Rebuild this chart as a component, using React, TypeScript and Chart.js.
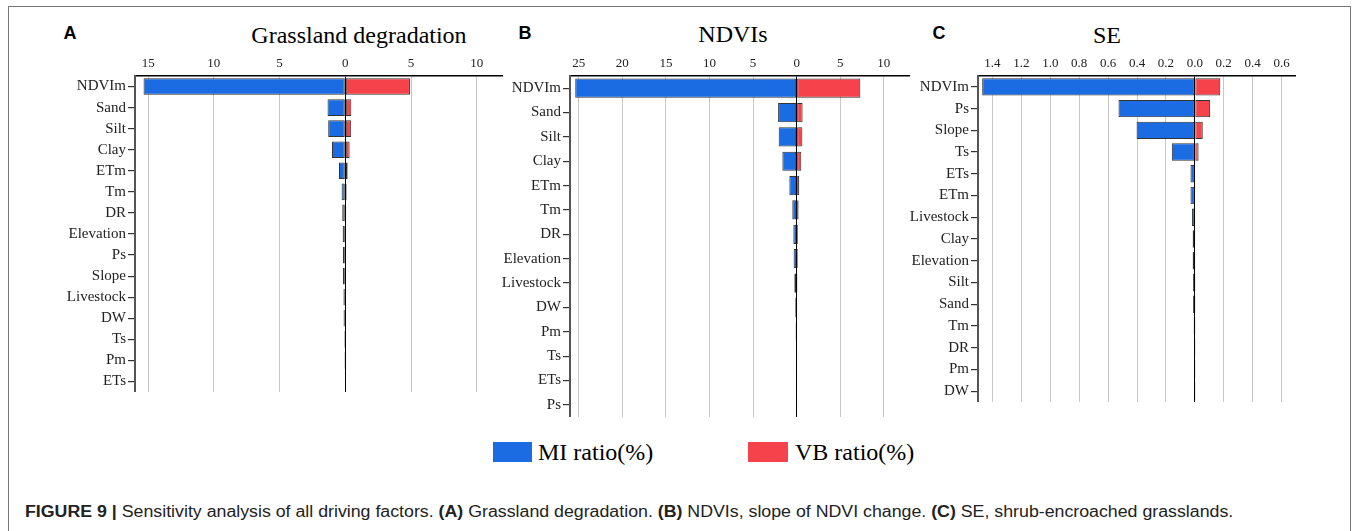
import React, { useEffect, useRef } from "react";
import { Chart, registerables } from "chart.js";

Chart.register(...registerables);

const SERIF = "'Liberation Serif', 'Times New Roman', serif";
const SANS = "'Liberation Sans', Arial, sans-serif";

const BLUE = "#1b6be2";
const RED = "#f6424a";

// Panel A: Grassland degradation
const A_TITLE = "Grassland degradation";
const A_FACTORS = ["NDVIm", "Sand", "Silt", "Clay", "ETm", "Tm", "DR", "Elevation", "Ps", "Slope", "Livestock", "DW", "Ts", "Pm", "ETs"];
const A_MI = [15.35, 1.35, 1.3, 1.01, 0.48, 0.28, 0.23, 0.2, 0.18, 0.18, 0.14, 0.13, 0.08, 0.07, 0.03];
const A_VB = [4.92, 0.46, 0.45, 0.33, 0.18, 0.1, 0.07, 0.06, 0.05, 0.05, 0.04, 0.03, 0.02, 0.02, 0.01];
const A_TICKS = [-15, -10, -5, 0, 5, 10];

// Panel B: NDVIs
const B_TITLE = "NDVIs";
const B_FACTORS = ["NDVIm", "Sand", "Silt", "Clay", "ETm", "Tm", "DR", "Elevation", "Livestock", "DW", "Pm", "Ts", "ETs", "Ps"];
const B_MI = [25.4, 2.13, 2.06, 1.64, 0.84, 0.5, 0.38, 0.35, 0.27, 0.16, 0.12, 0.08, 0.05, 0.04];
const B_VB = [7.3, 0.68, 0.65, 0.53, 0.3, 0.22, 0.15, 0.14, 0.1, 0.07, 0.05, 0.03, 0.02, 0.02];
const B_TICKS = [-25, -20, -15, -10, -5, 0, 5, 10];

// Panel C: SE
const C_TITLE = "SE";
const C_FACTORS = ["NDVIm", "Ps", "Slope", "Ts", "ETs", "ETm", "Livestock", "Clay", "Elevation", "Silt", "Sand", "Tm", "DR", "Pm", "DW"];
const C_MI = [1.471, 0.528, 0.403, 0.159, 0.03, 0.03, 0.02, 0.015, 0.015, 0.012, 0.012, 0.008, 0.006, 0.004, 0.003];
const C_VB = [0.176, 0.106, 0.055, 0.026, 0.003, 0.003, 0.002, 0.002, 0.002, 0.001, 0.001, 0.001, 0.001, 0.001, 0.001];
const C_TICKS = [-1.4, -1.2, -1.0, -0.8, -0.6, -0.4, -0.2, 0, 0.2, 0.4, 0.6];

const LEGEND = ["MI ratio(%)", "VB ratio(%)"];
const CAPTION_TEXTS = [
  "FIGURE 9 |",
  " Sensitivity analysis of all driving factors. ",
  "(A)",
  " Grassland degradation. ",
  "(B)",
  " NDVIs, slope of NDVI change. ",
  "(C)",
  " SE, shrub-encroached grasslands.",
];
const CAPTION_BOLD = [true, false, true, false, true, false, true, false];

type PanelProps = {
  labels: string[];
  mi: number[];
  vb: number[];
  ticks: number[];
  min: number;
  max: number;
  decimals: number;
  left: number;
  top: number;
  width: number;
  height: number;
  barPct: number;
};

const Y_AXIS_W = 85;
const X_AXIS_H = 30;

function Panel(p: PanelProps) {
  const ref = useRef<HTMLCanvasElement | null>(null);
  useEffect(() => {
    if (!ref.current) return;
    const chart = new Chart(ref.current, {
      type: "bar",
      data: {
        labels: p.labels,
        datasets: [
          {
            label: LEGEND[0],
            data: p.mi.map((v) => -v),
            backgroundColor: BLUE,
            borderColor: "#333",
            borderWidth: 1,
            borderSkipped: false,
            barPercentage: 1,
            categoryPercentage: p.barPct,
          },
          {
            label: LEGEND[1],
            data: p.vb,
            backgroundColor: RED,
            borderColor: "#333",
            borderWidth: 1,
            borderSkipped: false,
            barPercentage: 1,
            categoryPercentage: p.barPct,
          },
        ],
      },
      options: {
        indexAxis: "y",
        animation: false,
        responsive: false,
        maintainAspectRatio: false,
        layout: { padding: 0 },
        plugins: {
          legend: { display: false },
          title: { display: false },
          tooltip: { enabled: false },
        },
        scales: {
          x: {
            position: "top",
            stacked: true,
            min: p.min,
            max: p.max,
            afterBuildTicks: (axis: any) => {
              axis.ticks = p.ticks.map((v) => ({ value: v }));
            },
            afterFit: (axis: any) => {
              axis.height = X_AXIS_H;
              axis.paddingLeft = 0;
              axis.paddingRight = 0;
            },
            ticks: {
              font: { family: SERIF, size: 13 },
              color: "#222",
              padding: 5,
              maxRotation: 0,
              autoSkip: false,
              callback: (v: any) => Math.abs(Number(v)).toFixed(p.decimals),
            },
            grid: {
              drawTicks: false,
              drawOnChartArea: true,
              color: (ctx: any) => (ctx.tick && Math.abs(ctx.tick.value) < 1e-9 ? "#000" : "#c8c8c8"),
              lineWidth: 1,
            },
            border: { display: true, color: "#000", width: 1.5 },
          },
          y: {
            stacked: true,
            afterFit: (axis: any) => {
              axis.width = Y_AXIS_W;
              axis.paddingTop = 0;
              axis.paddingBottom = 0;
            },
            ticks: {
              font: { family: SERIF, size: 15 },
              color: "#222",
              padding: 2,
              autoSkip: false,
            },
            grid: {
              offset: false,
              drawOnChartArea: false,
              drawTicks: true,
              tickLength: 7,
              color: "#333",
              lineWidth: 1.2,
            },
            border: { display: true, color: "#555", width: 2 },
          },
        },
      },
    } as any);
    return () => chart.destroy();
  }, []);
  return (
    <canvas
      ref={ref}
      width={p.width}
      height={p.height}
      style={{ position: "absolute", left: p.left, top: p.top, width: p.width, height: p.height }}
    />
  );
}

function Txt(props: { x: number; y: number; text: string; size: number; family: string; bold?: boolean; center?: boolean }) {
  return (
    <div
      style={{
        position: "absolute",
        left: props.center ? props.x - 300 : props.x,
        top: props.y - props.size * 0.6,
        width: props.center ? 600 : undefined,
        textAlign: props.center ? "center" : "left",
        fontFamily: props.family,
        fontSize: props.size,
        fontWeight: props.bold ? "bold" : "normal",
        lineHeight: `${props.size * 1.2}px`,
        color: "#000",
        whiteSpace: "nowrap",
      }}
    >
      {props.text}
    </div>
  );
}

export default function App() {
  useEffect(() => {
    document.body.style.margin = "0";
  }, []);
  const top = 76 - X_AXIS_H;
  return (
    <div style={{ position: "relative", width: 1360, height: 531, overflow: "hidden", background: "#fff" }}>
      <div
        style={{
          position: "absolute",
          left: 8,
          top: 6,
          width: 1343,
          height: 600,
          border: "1.5px solid #777",
          boxSizing: "border-box",
        }}
      />
      <Txt x={70} y={34} text="A" size={18} family={SANS} bold center />
      <Txt x={525} y={34} text="B" size={18} family={SANS} bold center />
      <Txt x={939} y={34} text="C" size={18} family={SANS} bold center />
      <Txt x={359} y={35} text={A_TITLE} size={24} family={SERIF} center />
      <Txt x={733} y={34} text={B_TITLE} size={24} family={SERIF} center />
      <Txt x={1107} y={35} text={C_TITLE} size={24} family={SERIF} center />

      <Panel
        labels={A_FACTORS}
        mi={A_MI}
        vb={A_VB}
        ticks={A_TICKS}
        min={-16}
        max={12}
        decimals={0}
        left={135 - Y_AXIS_W}
        top={top}
        width={503 - (135 - Y_AXIS_W)}
        height={392 - top}
        barPct={0.79}
      />
      <Panel
        labels={B_FACTORS}
        mi={B_MI}
        vb={B_VB}
        ticks={B_TICKS}
        min={-26}
        max={13}
        decimals={0}
        left={570 - Y_AXIS_W}
        top={top}
        width={910 - (570 - Y_AXIS_W)}
        height={417 - top}
        barPct={0.79}
      />
      <Panel
        labels={C_FACTORS}
        mi={C_MI}
        vb={C_VB}
        ticks={C_TICKS}
        min={-1.5}
        max={0.7}
        decimals={1}
        left={978 - Y_AXIS_W}
        top={top}
        width={1296 - (978 - Y_AXIS_W)}
        height={402 - top}
        barPct={0.8}
      />

      <div style={{ position: "absolute", left: 493, top: 442, width: 39, height: 20, background: BLUE }} />
      <Txt x={538} y={452} text={LEGEND[0]} size={24} family={SERIF} />
      <div style={{ position: "absolute", left: 748, top: 442, width: 40, height: 20, background: RED }} />
      <Txt x={795} y={452} text={LEGEND[1]} size={24} family={SERIF} />

      <div
        style={{
          position: "absolute",
          left: 25,
          top: 503,
          fontFamily: SANS,
          fontSize: 16,
          lineHeight: "18px",
          color: "#222",
          whiteSpace: "pre",
          transform: "scaleX(1.11)",
          transformOrigin: "left center",
        }}
      >
        {CAPTION_TEXTS.map((t, i) =>
          CAPTION_BOLD[i] ? <b key={i}>{t}</b> : <span key={i}>{t}</span>
        )}
      </div>
    </div>
  );
}
